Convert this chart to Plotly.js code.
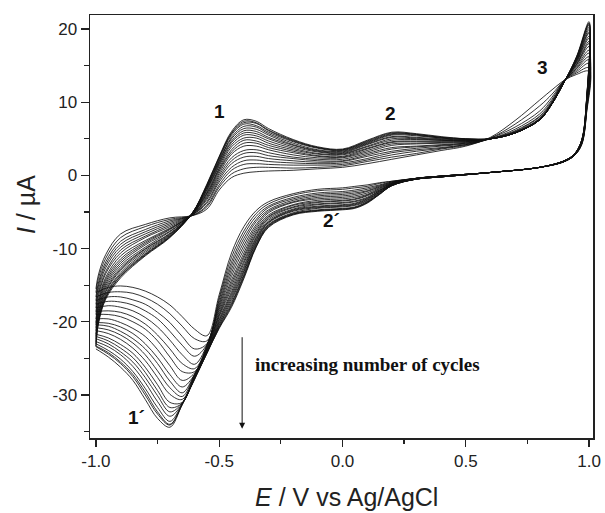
<!DOCTYPE html>
<html>
<head>
<meta charset="utf-8">
<script src="https://cdn.plot.ly/plotly-3.0.1.min.js"></script>
<style>html,body{margin:0;padding:0;background:#fff;}#chart{width:605px;height:513px;}</style>
</head>
<body>
<div id="chart"></div>
<script>
// Potential grids (V vs Ag/AgCl)
const E_fwd = [-1.0, -0.99, -0.96, -0.9, -0.8, -0.7, -0.61, -0.55, -0.5, -0.45, -0.4, -0.35, -0.3, -0.2, -0.1, 0.0, 0.1, 0.2, 0.3, 0.4, 0.5, 0.6, 0.7, 0.8, 0.85, 0.9, 0.95, 1.0];
const E_rev = [0.99, 0.97, 0.94, 0.9, 0.8, 0.6, 0.4, 0.3, 0.2, 0.15, 0.1, 0.05, 0.0, -0.1, -0.2, -0.3, -0.35, -0.4, -0.45, -0.5, -0.55, -0.6, -0.65, -0.7, -0.75, -0.8, -0.85, -0.9, -0.95, -1.0];

// Anodic (forward) sweep currents, µA, one row per cycle
const I_fwd = [
[-15.5,-13.6,-10.8,-8.0,-6.7,-5.8,-5.5,-4.6,-2.0,-0.3,0.3,0.5,0.6,0.7,0.9,1.1,1.6,2.2,2.8,3.4,4.0,5.2,7.5,10.3,11.7,13.0,13.8,14.2],
[-16.0,-14.1,-11.3,-8.5,-7.0,-6.0,-5.5,-4.3,-1.6,0.2,0.9,1.1,1.1,1.0,1.1,1.3,1.9,2.5,3.0,3.6,4.1,5.1,7.0,9.5,11.1,13.0,14.0,14.7],
[-16.6,-14.7,-11.8,-9.0,-7.4,-6.2,-5.5,-4.1,-1.3,0.7,1.5,1.6,1.5,1.4,1.4,1.5,2.1,2.8,3.3,3.7,4.2,5.1,6.6,8.8,10.7,13.0,14.2,15.3],
[-17.1,-15.1,-12.2,-9.4,-7.7,-6.4,-5.4,-3.8,-0.9,1.1,2.0,2.1,1.9,1.7,1.6,1.7,2.3,3.1,3.5,3.8,4.2,5.0,6.3,8.4,10.4,13.0,14.4,15.8],
[-17.6,-15.6,-12.6,-9.8,-8.0,-6.6,-5.4,-3.6,-0.6,1.6,2.5,2.6,2.3,2.0,1.8,1.9,2.6,3.3,3.7,4.0,4.3,5.0,6.1,8.1,10.2,12.9,14.6,16.2],
[-18.1,-16.1,-13.1,-10.2,-8.3,-6.8,-5.4,-3.3,-0.3,2.0,3.0,3.1,2.7,2.3,2.0,2.0,2.8,3.6,3.9,4.1,4.4,5.0,6.0,8.0,10.0,12.9,14.7,16.7],
[-18.6,-16.5,-13.4,-10.6,-8.5,-7.0,-5.4,-3.1,0.0,2.4,3.4,3.5,3.1,2.5,2.2,2.2,3.0,3.8,4.0,4.2,4.4,5.0,5.9,7.8,10.0,12.9,14.9,17.1],
[-19.0,-17.0,-13.9,-11.0,-8.9,-7.2,-5.4,-2.9,0.3,2.9,4.0,4.0,3.5,2.8,2.4,2.4,3.2,4.1,4.3,4.4,4.5,5.0,5.9,7.7,9.9,12.9,15.1,17.6],
[-19.6,-17.4,-14.2,-11.4,-9.1,-7.3,-5.3,-2.7,0.6,3.2,4.4,4.4,3.8,3.1,2.6,2.5,3.4,4.3,4.4,4.5,4.6,5.0,5.9,7.7,9.9,12.9,15.2,18.0],
[-20.1,-17.7,-14.5,-11.7,-9.3,-7.4,-5.3,-2.5,0.8,3.5,4.8,4.7,4.1,3.3,2.7,2.6,3.6,4.5,4.6,4.6,4.6,5.0,5.8,7.7,9.8,12.9,15.3,18.3],
[-20.4,-18.0,-14.8,-12.0,-9.5,-7.6,-5.3,-2.4,1.0,3.9,5.1,5.1,4.4,3.5,2.9,2.8,3.7,4.6,4.7,4.7,4.7,5.0,5.8,7.6,9.8,12.9,15.5,18.7],
[-20.8,-18.4,-15.1,-12.3,-9.8,-7.7,-5.3,-2.2,1.3,4.2,5.5,5.4,4.7,3.7,3.0,2.9,3.9,4.8,4.9,4.8,4.7,5.0,5.8,7.6,9.8,12.9,15.6,19.0],
[-21.2,-18.7,-15.4,-12.6,-10.0,-7.9,-5.3,-2.0,1.5,4.5,5.8,5.7,5.0,3.9,3.2,3.0,4.0,5.0,5.0,4.8,4.8,5.0,5.8,7.6,9.8,12.8,15.7,19.4],
[-21.7,-19.0,-15.7,-12.8,-10.1,-8.0,-5.3,-1.9,1.7,4.7,6.1,6.0,5.2,4.1,3.3,3.1,4.2,5.2,5.1,4.9,4.8,5.0,5.8,7.6,9.8,12.8,15.8,19.6],
[-22.0,-19.2,-15.9,-13.0,-10.3,-8.1,-5.2,-1.7,1.9,5.0,6.4,6.3,5.5,4.2,3.4,3.2,4.3,5.3,5.2,5.0,4.8,5.0,5.8,7.6,9.8,12.8,15.9,19.9],
[-22.3,-19.5,-16.2,-13.3,-10.5,-8.2,-5.2,-1.6,2.0,5.2,6.7,6.6,5.7,4.4,3.5,3.3,4.4,5.5,5.4,5.1,4.9,5.0,5.8,7.6,9.8,12.8,16.0,20.2],
[-22.7,-19.8,-16.4,-13.5,-10.7,-8.3,-5.2,-1.5,2.2,5.5,7.0,6.8,5.9,4.6,3.7,3.4,4.5,5.6,5.5,5.1,4.9,5.0,5.8,7.6,9.8,12.8,16.1,20.5],
[-23.0,-20.0,-16.6,-13.7,-10.8,-8.4,-5.2,-1.4,2.4,5.7,7.2,7.1,6.1,4.7,3.8,3.5,4.6,5.7,5.6,5.2,5.0,5.0,5.8,7.6,9.8,12.8,16.2,20.7],
[-23.3,-20.1,-16.7,-13.8,-10.9,-8.4,-5.2,-1.3,2.5,5.8,7.4,7.2,6.2,4.8,3.8,3.5,4.7,5.8,5.6,5.2,5.0,5.0,5.8,7.6,9.8,12.8,16.2,20.8],
[-23.4,-20.3,-16.9,-14.0,-11.0,-8.5,-5.2,-1.2,2.6,6.0,7.6,7.4,6.4,4.9,3.9,3.6,4.8,5.9,5.7,5.3,5.0,5.0,5.8,7.6,9.8,12.8,16.3,21.0]
];

// Cathodic (reverse) sweep currents, µA, one row per cycle
const I_rev = [
[8.5,4.2,2.7,1.9,1.1,0.4,-0.1,-0.4,-0.8,-1.0,-1.3,-1.5,-1.7,-1.9,-2.5,-3.6,-4.8,-7.0,-10.6,-16.3,-21.9,-21.0,-19.3,-17.7,-16.6,-15.8,-15.3,-15.1,-15.3,-16.0],
[8.7,4.2,2.7,1.9,1.1,0.4,-0.1,-0.4,-0.8,-1.1,-1.5,-1.7,-1.9,-2.1,-2.7,-3.9,-5.2,-7.6,-11.2,-16.7,-22.6,-22.3,-20.6,-18.9,-17.6,-16.7,-16.1,-15.9,-16.0,-16.6],
[8.8,4.3,2.7,1.9,1.1,0.4,-0.1,-0.4,-0.9,-1.3,-1.7,-2.0,-2.2,-2.4,-3.0,-4.2,-5.6,-8.1,-11.8,-17.0,-23.0,-23.7,-22.0,-20.1,-18.7,-17.6,-17.0,-16.6,-16.6,-17.1],
[9.0,4.3,2.7,1.9,1.1,0.4,-0.1,-0.4,-0.9,-1.4,-1.9,-2.2,-2.4,-2.6,-3.2,-4.4,-6.0,-8.6,-12.3,-17.4,-23.1,-24.7,-23.2,-21.3,-19.6,-18.5,-17.7,-17.3,-17.2,-17.6],
[9.1,4.4,2.8,1.9,1.1,0.4,-0.1,-0.4,-1.0,-1.5,-2.1,-2.4,-2.6,-2.8,-3.4,-4.7,-6.3,-9.1,-12.8,-17.7,-23.2,-25.8,-24.5,-22.5,-20.7,-19.4,-18.5,-18.0,-17.8,-18.1],
[9.2,4.4,2.8,1.9,1.1,0.4,-0.1,-0.4,-1.0,-1.6,-2.2,-2.6,-2.8,-3.0,-3.6,-4.9,-6.7,-9.6,-13.3,-18.0,-23.3,-26.4,-25.7,-23.7,-21.8,-20.3,-19.3,-18.7,-18.5,-18.6],
[9.4,4.5,2.8,1.9,1.1,0.4,-0.1,-0.4,-1.1,-1.7,-2.4,-2.8,-3.0,-3.2,-3.7,-5.1,-7.0,-10.1,-13.8,-18.3,-23.3,-26.8,-26.8,-24.8,-22.6,-21.0,-20.0,-19.3,-19.0,-19.0],
[9.5,4.5,2.8,1.9,1.1,0.4,-0.1,-0.4,-1.1,-1.8,-2.6,-3.0,-3.2,-3.4,-4.0,-5.4,-7.3,-10.6,-14.3,-18.6,-23.5,-27.0,-28.0,-26.0,-23.8,-22.0,-20.9,-20.1,-19.6,-19.6],
[9.6,4.5,2.8,1.9,1.1,0.4,-0.1,-0.4,-1.1,-1.9,-2.7,-3.2,-3.4,-3.6,-4.1,-5.6,-7.6,-11.0,-14.7,-18.9,-23.7,-27.2,-28.9,-27.2,-24.9,-23.0,-21.6,-20.7,-20.2,-20.1],
[9.7,4.6,2.8,1.9,1.1,0.4,-0.1,-0.4,-1.2,-2.0,-2.8,-3.3,-3.5,-3.7,-4.3,-5.7,-7.9,-11.3,-15.1,-19.1,-23.7,-27.2,-29.7,-28.1,-25.7,-23.7,-22.3,-21.3,-20.6,-20.4],
[9.8,4.6,2.8,2.0,1.1,0.4,-0.2,-0.5,-1.2,-2.1,-3.0,-3.5,-3.7,-3.9,-4.4,-5.9,-8.1,-11.7,-15.5,-19.3,-23.8,-27.2,-30.2,-29.0,-26.7,-24.5,-22.9,-21.8,-21.1,-20.8],
[9.9,4.6,2.8,2.0,1.1,0.4,-0.2,-0.5,-1.2,-2.1,-3.1,-3.6,-3.8,-4.0,-4.6,-6.1,-8.4,-12.0,-15.9,-19.6,-23.8,-27.3,-30.6,-29.9,-27.6,-25.3,-23.6,-22.4,-21.6,-21.2],
[10.0,4.7,2.8,2.0,1.1,0.4,-0.2,-0.5,-1.3,-2.2,-3.2,-3.8,-4.0,-4.2,-4.7,-6.3,-8.6,-12.4,-16.2,-19.8,-24.0,-27.4,-31.0,-31.0,-28.6,-26.2,-24.3,-23.1,-22.2,-21.7],
[10.1,4.7,2.9,2.0,1.1,0.4,-0.2,-0.5,-1.3,-2.3,-3.3,-3.9,-4.1,-4.3,-4.8,-6.4,-8.8,-12.7,-16.5,-20.0,-24.1,-27.5,-31.1,-31.7,-29.4,-26.9,-24.9,-23.6,-22.6,-22.0],
[10.2,4.7,2.9,2.0,1.1,0.4,-0.2,-0.5,-1.3,-2.3,-3.4,-4.0,-4.2,-4.4,-4.9,-6.5,-9.0,-13.0,-16.8,-20.2,-24.1,-27.6,-31.1,-32.3,-30.1,-27.6,-25.5,-24.1,-23.0,-22.3],
[10.3,4.7,2.9,2.0,1.1,0.4,-0.2,-0.5,-1.3,-2.4,-3.5,-4.1,-4.3,-4.5,-5.1,-6.7,-9.2,-13.2,-17.1,-20.4,-24.2,-27.7,-31.2,-32.9,-30.9,-28.3,-26.1,-24.5,-23.4,-22.7],
[10.3,4.8,2.9,2.0,1.1,0.4,-0.2,-0.5,-1.4,-2.5,-3.6,-4.3,-4.5,-4.7,-5.2,-6.8,-9.4,-13.5,-17.4,-20.5,-24.2,-27.7,-31.2,-33.6,-31.7,-29.1,-26.8,-25.1,-23.9,-23.0],
[10.4,4.8,2.9,2.0,1.1,0.4,-0.2,-0.5,-1.4,-2.5,-3.7,-4.4,-4.6,-4.8,-5.3,-6.9,-9.6,-13.7,-17.6,-20.7,-24.3,-27.8,-31.3,-34.0,-32.3,-29.6,-27.2,-25.5,-24.2,-23.3],
[10.4,4.8,2.9,2.0,1.1,0.4,-0.2,-0.5,-1.4,-2.6,-3.7,-4.4,-4.6,-4.8,-5.3,-7.0,-9.7,-13.9,-17.8,-20.8,-24.3,-27.8,-31.3,-34.1,-32.6,-30.0,-27.5,-25.7,-24.4,-23.4],
[10.5,4.8,2.9,2.0,1.1,0.4,-0.2,-0.5,-1.4,-2.6,-3.8,-4.5,-4.7,-4.9,-5.4,-7.1,-9.8,-14.1,-18.0,-20.9,-24.3,-27.9,-31.3,-34.4,-33.2,-30.6,-28.0,-26.2,-24.8,-23.7]
];

// Tick labels
const xTickVals = [-1.0, -0.5, 0.0, 0.5, 1.0];
const xTickText = ['-1.0', '-0.5', '0.0', '0.5', '1.0'];
const xMinorVals = [-0.75, -0.25, 0.25, 0.75];
const yTickVals = [-30, -20, -10, 0, 10, 20];
const yTickText = ['-30', '-20', '-10', '0', '10', '20'];
const yMinorVals = [-35, -25, -15, -5, 5, 15];

const E_cycle = E_fwd.concat(E_rev);
const traces = I_fwd.map(function (fwd, k) {
  return {
    x: E_cycle,
    y: fwd.concat(I_rev[k]),
    type: 'scatter',
    mode: 'lines',
    line: {color: '#111111', width: 0.85, shape: 'spline', smoothing: 1},
    hoverinfo: 'skip',
    showlegend: false
  };
});

const sans = 'Liberation Sans, Arial, Helvetica, sans-serif';
const axisCommon = {
  ticks: 'outside', tickcolor: '#222', tickwidth: 1.3,
  showline: true, mirror: true, linecolor: '#222', linewidth: 1.5,
  showgrid: false, zeroline: false,
  tickfont: {family: sans, size: 17, color: '#222'},
  tickmode: 'array'
};

const layout = {
  width: 605, height: 513,
  margin: {l: 90, r: 12, t: 15, b: 75},
  paper_bgcolor: '#ffffff', plot_bgcolor: '#ffffff',
  showlegend: false,
  xaxis: Object.assign({}, axisCommon, {
    range: [-1.024, 1.016],
    tickvals: xTickVals, ticktext: xTickText, ticklen: 7,
    minor: {tickmode: 'array', tickvals: xMinorVals, ticks: 'outside', ticklen: 4, tickcolor: '#222', tickwidth: 1.3}
  }),
  yaxis: Object.assign({}, axisCommon, {
    range: [-35.87, 21.91],
    tickvals: yTickVals, ticktext: yTickText, ticklen: 8,
    minor: {tickmode: 'array', tickvals: yMinorVals, ticks: 'outside', ticklen: 5, tickcolor: '#222', tickwidth: 1.3}
  }),
  annotations: [
    {xref: 'paper', yref: 'paper', x: 0.51, y: -0.139, xanchor: 'center', yanchor: 'middle', showarrow: false,
     text: '<i>E</i> / V vs Ag/AgCl', font: {family: sans, size: 25, color: '#222'}},
    {xref: 'paper', yref: 'paper', x: -0.127, y: 0.551, xanchor: 'center', yanchor: 'middle', showarrow: false, textangle: -90,
     text: '<i>I</i> / µA', font: {family: sans, size: 25, color: '#222'}},
    {x: -0.499, y: 8.7, text: '<b>1</b>', showarrow: false, font: {family: sans, size: 19, color: '#111'}},
    {x: 0.195, y: 8.5, text: '<b>2</b>', showarrow: false, font: {family: sans, size: 19, color: '#111'}},
    {x: 0.81, y: 14.8, text: '<b>3</b>', showarrow: false, font: {family: sans, size: 19, color: '#111'}},
    {x: -0.045, y: -6.1, text: '<b>2´</b>', showarrow: false, font: {family: sans, size: 19, color: '#111'}},
    {x: -0.836, y: -33.1, text: '<b>1´</b>', showarrow: false, font: {family: sans, size: 19, color: '#111'}},
    {x: -0.407, y: -34.6, ax: -0.407, ay: -21.9, axref: 'x', ayref: 'y', text: '', showarrow: true,
     arrowhead: 2, arrowsize: 1.2, arrowwidth: 1, arrowcolor: '#111'},
    {x: -0.361, y: -25.8, xanchor: 'left', yanchor: 'middle', showarrow: false,
     text: '<b>increasing number of cycles</b>', font: {family: 'Liberation Serif, Times New Roman, serif', size: 19, color: '#111'}}
  ]
};

Plotly.newPlot('chart', traces, layout, {staticPlot: true, displayModeBar: false});
</script>
</body>
</html>
